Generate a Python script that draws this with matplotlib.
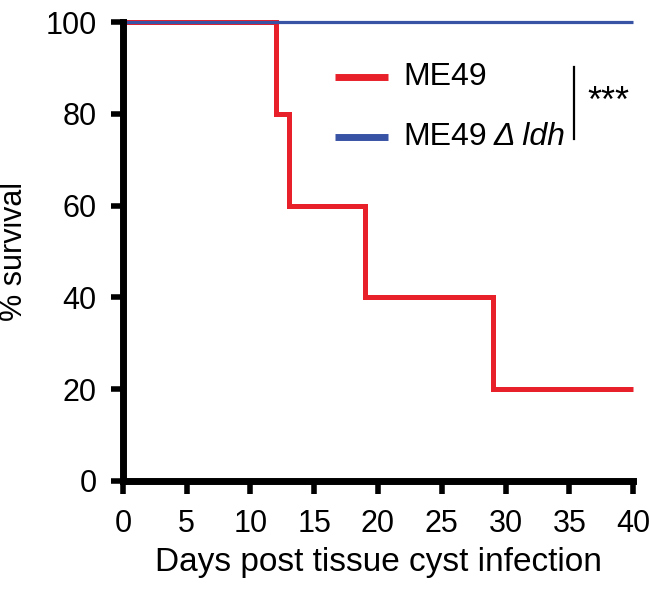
import matplotlib
matplotlib.use("Agg")
import matplotlib.pyplot as plt

# Kaplan-Meier survival data
days_me49 = [0, 12, 13, 19, 29, 40]
surv_me49 = [100, 80, 60, 40, 20, 20]
days_ldh = [0, 40]
surv_ldh = [100, 100]
xticks = [0, 5, 10, 15, 20, 25, 30, 35, 40]
yticks = [0, 20, 40, 60, 80, 100]

red = '#e8202a'
blue = '#3953a4'

plt.rcParams['font.family'] = ['Liberation Sans', 'DejaVu Sans']

fig = plt.figure(figsize=(6.5, 5.95), dpi=100)
ax = fig.add_axes([0.189, 0.1916, 0.785, 0.7714])

ax.step(days_me49, surv_me49, where='post', color=red, lw=3.6, clip_on=False,
        solid_joinstyle='miter', solid_capstyle='butt')
ax.plot(days_ldh, surv_ldh, color=blue, lw=2.3, clip_on=False, solid_capstyle='butt')

ax.set_xlim(0, 40)
ax.set_ylim(0, 100)
ax.set_xticks(xticks)
ax.set_yticks(yticks)
for s in ['top', 'right']:
    ax.spines[s].set_visible(False)
for s in ['left', 'bottom']:
    ax.spines[s].set_linewidth(5)
    ax.spines[s].set_capstyle('projecting')
ax.tick_params(width=4, length=9, labelsize=22)
ax.tick_params(axis='y', pad=10)
ax.tick_params(axis='x', pad=11)
ax.set_xlabel('Days post tissue cyst infection', fontsize=24, labelpad=6)
fig.text(0.022, 0.578, '% survival', fontsize=22, rotation=90, ha='center', va='center')

# legend drawn by hand to match layout
ax.plot([16.6, 20.8], [88, 88], color=red, lw=5, solid_capstyle='butt')
ax.text(22.0, 88, 'ME49', fontsize=23, va='center')
ax.plot([16.6, 20.8], [74.9, 74.9], color=blue, lw=5, solid_capstyle='butt')
t = ax.text(22.0, 74.9, 'ME49', fontsize=23, va='center')
ax.annotate('\u0394 ldh', xy=(1, 0.5), xycoords=t, xytext=(5, 0), textcoords='offset points',
            fontsize=23, va='center', style='italic')
ax.plot([35.4, 35.4], [74.5, 90.2], color='black', lw=1.6)
ax.text(36.4, 82.4, '***', fontsize=26, va='center')

fig.savefig('out.png', dpi=100)
